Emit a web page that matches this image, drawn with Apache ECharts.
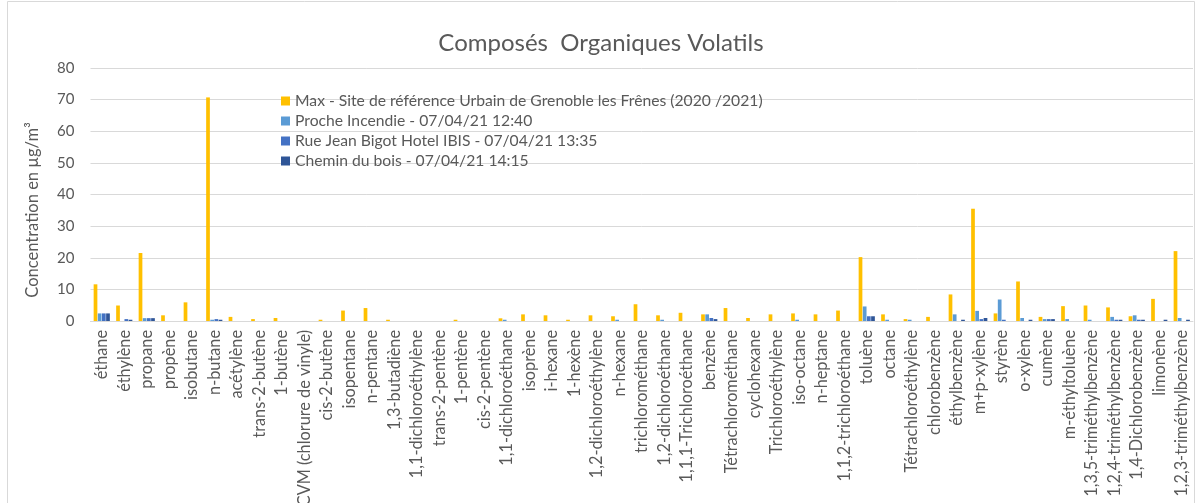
<!DOCTYPE html>
<html><head><meta charset="utf-8">
<script src="https://cdn.jsdelivr.net/npm/echarts@6/dist/echarts.min.js"></script>
<style>html,body{margin:0;padding:0;background:#fff}#c{width:1202px;height:503px}</style>
</head><body><div id="c"></div>
<script>
const categories = ["éthane","éthylène","propane","propène","isobutane","n-butane","acétylène","trans-2-butène","1-butène","CVM (chlorure de vinyle)","cis-2-butène","isopentane","n-pentane","1,3-butadiène","1,1-dichloroéthylène","trans-2-pentène","1-pentène","cis-2-pentène","1,1-dichloroéthane","isoprène","i-hexane","1-hexène","1,2-dichloroéthylène","n-hexane","trichlorométhane","1,2-dichloroéthane","1,1,1-Trichloroéthane","benzène","Tétrachlorométhane","cyclohexane","Trichloroéthylène","iso-octane","n-heptane","1,1,2-trichloroéthane","toluène","octane","Tétrachloroéthylène","chlorobenzène","éthylbenzène","m+p-xylène","styrène","o-xylène","cumène","m-éthyltoluène","1,3,5-triméthylbenzène","1,2,4-triméthylbenzène","1,4-Dichlorobenzène","limonène","1,2,3-triméthylbenzène"];
const seriesNames = ["Max - Site de référence Urbain de Grenoble les Frênes (2020 /2021)","Proche Incendie - 07/04/21 12:40","Rue Jean Bigot Hotel IBIS - 07/04/21 13:35","Chemin du bois - 07/04/21 14:15"];
const maxRef = [11.6,4.9,21.5,1.8,5.9,70.7,1.3,0.6,0.95,0,0.4,3.3,4.1,0.4,0,0,0.4,0,0.85,2.1,1.8,0.4,1.8,1.5,5.3,1.8,2.6,2.1,4.1,0.95,2.1,2.4,2.1,3.3,20.2,2.1,0.6,1.3,8.4,35.5,2.4,12.5,1.3,4.7,4.9,4.3,1.5,7.0,22.1];
const proche = [2.4,0,0.9,0,0,0.4,0,0,0,0,0,0,0,0,0,0,0,0,0.4,0,0,0,0,0.4,0,0.4,0,2.1,0,0,0,0.4,0,0,4.6,0.4,0.4,0,2.1,3.2,6.8,0.95,0.6,0.6,0.4,1.3,1.8,0,0.95];
const rue = [2.4,0.6,0.9,0,0,0.6,0,0,0,0,0,0,0,0,0,0,0,0,0,0,0,0,0,0,0,0,0,0.95,0,0,0,0,0,0,1.5,0,0,0,0,0.6,0.4,0,0.6,0,0,0.4,0.4,0,0];
const chemin = [2.4,0.4,0.9,0,0,0.4,0,0,0,0,0,0,0,0,0,0,0,0,0,0,0,0,0,0,0,0,0,0.6,0,0,0,0,0,0,1.5,0,0,0,0.4,0.95,0,0.4,0.6,0,0,0.4,0.4,0.4,0.4];
const yTicks = {min:0,max:80,interval:10};
const titleText = "Composés  Organiques Volatils";
const yName = "Concentration en µg/m³";
const colors = ["#FFC000","#5B9BD5","#4472C4","#2F5597"];
const FONT = "Lato, 'Open Sans', sans-serif";

const chart = echarts.init(document.getElementById('c'), null, {renderer:'canvas'});
const vals = [maxRef, proche, rue, chemin];
chart.setOption({
  animation:false,
  color: colors,
  textStyle:{fontFamily:FONT},
  title:{text:titleText, left:'center', top:26, padding:[5,5,5,45], textStyle:{fontFamily:FONT,fontSize:24,fontWeight:'normal',color:'#595959'}},
  legend:{orient:'vertical', left:276, top:88, itemWidth:9, itemHeight:9, itemGap:4, icon:'rect',
    textStyle:{fontFamily:FONT,fontSize:15.7,color:'#595959'}, data:seriesNames},
  grid:{left:90.5, right:9, top:68, bottom:182, containLabel:false, outerBoundsMode:'none'},
  xAxis:{type:'category', data:categories,
    axisLine:{lineStyle:{color:'#D9D9D9'}}, axisTick:{show:false},
    axisLabel:{rotate:90, interval:0, fontFamily:FONT, fontSize:16.3, color:'#595959', margin:9}},
  yAxis:{type:'value', min:yTicks.min, max:yTicks.max, interval:yTicks.interval,
    axisLine:{show:false}, axisTick:{show:false},
    axisLabel:{fontFamily:FONT,fontSize:15,color:'#595959', margin:16},
    splitLine:{lineStyle:{color:'#D9D9D9', width:1}}},
  graphic:[
    {type:'rect', shape:{x:7.5,y:1.5,width:1187,height:520}, style:{fill:'none',stroke:'#D9D9D9',lineWidth:1}, silent:true, z:-10},
    {type:'text', x:33, y:210, rotation:Math.PI/2, style:{text:yName, fontFamily:FONT, fontSize:16.5, fill:'#595959', align:'center', verticalAlign:'middle'}, silent:true}
  ],
  series: seriesNames.map((n,i)=>({name:n, type:'bar', data:vals[i], barGap:'12%', barCategoryGap:'28%'}))
});
</script></body></html>
